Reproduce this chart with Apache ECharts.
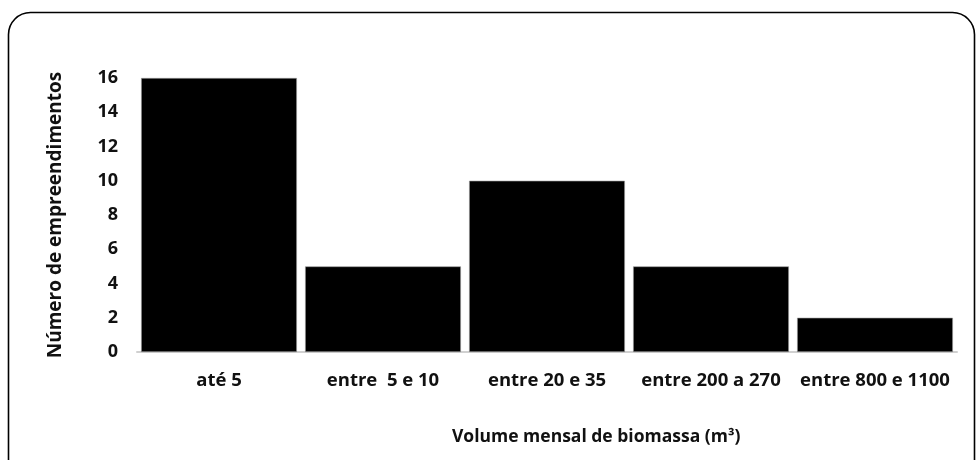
<!DOCTYPE html>
<html>
<head>
<meta charset="utf-8">
<script src="https://cdn.jsdelivr.net/npm/echarts@6/dist/echarts.min.js"></script>
<style>
  html, body { margin: 0; padding: 0; background: #ffffff; }
  #chart { width: 980px; height: 460px; }
</style>
</head>
<body>
<div id="chart"></div>
<script>
// Volume classes (m³/month) and number of enterprises per class
const categories = ['até 5', 'entre  5 e 10', 'entre 20 e 35', 'entre 200 a 270', 'entre 800 e 1100'];
const counts = [16, 5, 10, 5, 2];
const yTicks = { min: 0, max: 16, interval: 2 };

const FONT = '"Open Sans", "Liberation Sans", sans-serif';

const chart = echarts.init(document.getElementById('chart'), null, { renderer: 'canvas' });

chart.setOption({
  backgroundColor: '#ffffff',
  animation: false,
  grid: { left: 137, right: 23, top: 78, bottom: 108, containLabel: false },
  xAxis: {
    type: 'category',
    data: categories,
    axisLine: { show: true, lineStyle: { color: '#d0d0d0', width: 2 } },
    axisTick: { show: false },
    axisLabel: {
      color: '#111', fontFamily: FONT, fontWeight: 'bold', fontSize: 18.5,
      margin: 19, interval: 0
    }
  },
  yAxis: {
    type: 'value',
    min: yTicks.min, max: yTicks.max, interval: yTicks.interval,
    splitLine: { show: false },
    axisLine: { show: false },
    axisTick: { show: false },
    axisLabel: {
      color: '#111', fontFamily: FONT, fontWeight: 'bold', fontSize: 18, margin: 19
    },
    name: 'Número de empreendimentos',
    nameLocation: 'middle',
    nameGap: 72,
    nameTextStyle: { color: '#111', fontFamily: FONT, fontWeight: 'bold', fontSize: 19 }
  },
  series: [{
    type: 'bar',
    data: counts,
    barCategoryGap: '5%',
    itemStyle: { color: '#000000', borderColor: '#9a9a9a', borderWidth: 0.6 }
  }],
  graphic: [
    {
      type: 'rect',
      shape: { x: 8.5, y: 12.5, width: 966, height: 470, r: 22 },
      style: { fill: 'none', stroke: '#000', lineWidth: 1.6 },
      silent: true
    },
    {
      type: 'text',
      left: 452, top: 428,
      style: {
        text: 'Volume mensal de biomassa (m³)',
        fill: '#111', font: 'bold 17.5px ' + FONT
      }
    }
  ]
});
</script>
</body>
</html>
